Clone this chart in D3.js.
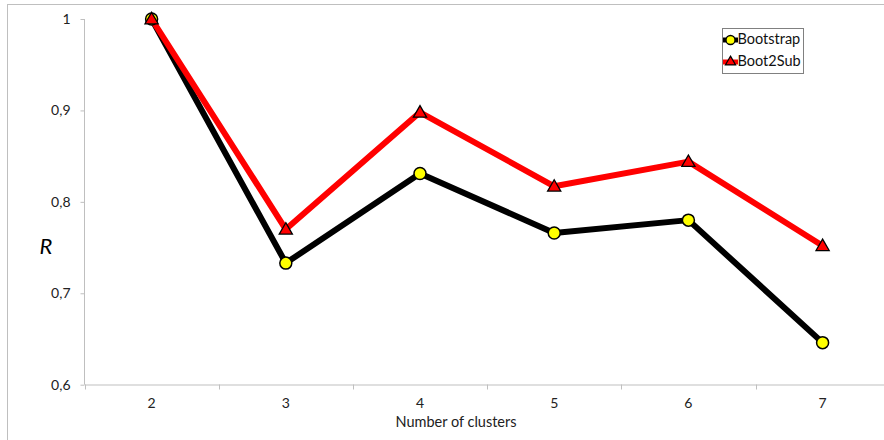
<!DOCTYPE html>
<html><head><meta charset="utf-8">
<script src="https://cdn.jsdelivr.net/npm/d3@7"></script>
<style>body{margin:0;background:#fff}svg{display:block}text{font-family:Lato,"Open Sans",sans-serif}</style>
</head><body>
<svg id="c" width="884" height="440"></svg>
<script>
const categories = ["2","3","4","5","6","7"];
const bootstrap = [1.0, 0.733, 0.831, 0.766, 0.780, 0.646];
const boot2sub = [1.0, 0.770, 0.898, 0.817, 0.844, 0.752];
const yTicks = [0.6, 0.7, 0.8, 0.9, 1.0];
const yTickLabels = ["0,6","0,7","0,8","0,9","1"];

const svg = d3.select("#c");
// outer border
svg.append("rect").attr("x",7.5).attr("y",4.5).attr("width",900).attr("height",500)
  .attr("fill","none").attr("stroke","#bfbfbf").attr("stroke-width",1);

const x = d3.scaleBand().domain(categories).range([84.5, 84.5+6*134.2]);
const y = d3.scaleLinear().domain([0.6, 1.0]).range([384.7, 19]);

// axes
const xAxis = d3.axisBottom(x).tickSize(0).tickPadding(14);
const gx = svg.append("g").attr("transform","translate(0,384.5)").call(xAxis);
gx.select(".domain").attr("stroke","#bfbfbf");
gx.selectAll("text").attr("font-size",14).attr("fill","#222");
// x tick marks at band edges
svg.append("g").selectAll("line").data(categories).join("line")
  .attr("x1",d=>Math.round(x(d))+0.5).attr("x2",d=>Math.round(x(d))+0.5)
  .attr("y1",384.5).attr("y2",389.5).attr("stroke","#bfbfbf");

const yAxis = d3.axisLeft(y).tickValues(yTicks).tickFormat((d,i)=>yTickLabels[i]).tickSize(4).tickPadding(10);
const gy = svg.append("g").attr("transform","translate(84.5,0)").call(yAxis);
gy.select(".domain").attr("stroke","#bfbfbf").attr("d","M0,"+y(1.0)+"V"+y(0.6));
gy.selectAll(".tick line").attr("stroke","#bfbfbf");
gy.selectAll("text").attr("font-size",14).attr("fill","#222");

svg.append("text").attr("x",46).attr("y",248).attr("text-anchor","middle").attr("dominant-baseline","middle")
  .attr("font-size",22).attr("font-style","italic").text("R");
svg.append("text").attr("x",456).attr("y",423).attr("text-anchor","middle").attr("dominant-baseline","middle")
  .attr("font-size",14.5).attr("fill","#222").text("Number of clusters");

const cx = d => x(d) + x.bandwidth()/2;
const line = d3.line().x((d,i)=>cx(categories[i])).y(d=>y(d));

svg.append("path").datum(bootstrap).attr("d",line).attr("fill","none").attr("stroke","#000").attr("stroke-width",6).attr("stroke-linejoin","round");
svg.append("path").datum(boot2sub).attr("d",line).attr("fill","none").attr("stroke","#ff0000").attr("stroke-width",6).attr("stroke-linejoin","round");

svg.append("g").selectAll("circle").data(bootstrap).join("circle")
  .attr("cx",(d,i)=>cx(categories[i])).attr("cy",d=>y(d)).attr("r",6)
  .attr("fill","#ffff00").attr("stroke","#000").attr("stroke-width",1.5);

const tri = d3.symbol().type(d3.symbolTriangle).size(75);
svg.append("g").selectAll("path").data(boot2sub).join("path")
  .attr("d",tri).attr("transform",(d,i)=>`translate(${cx(categories[i])},${y(d)+1})`)
  .attr("fill","#ff0000").attr("stroke","#000").attr("stroke-width",1.3);

// legend
const lg = svg.append("g");
lg.append("rect").attr("x",722.5).attr("y",28.5).attr("width",81).attr("height",45)
  .attr("fill","#fff").attr("stroke","#808080");
const items = [{name:"Bootstrap",color:"#000",sym:"c",yy:40},{name:"Boot2Sub",color:"#ff0000",sym:"t",yy:62}];
items.forEach(it=>{
  lg.append("line").attr("x1",723).attr("x2",738).attr("y1",it.yy).attr("y2",it.yy).attr("stroke",it.color).attr("stroke-width",5);
  if(it.sym==="c"){
    lg.append("circle").attr("cx",730.5).attr("cy",it.yy).attr("r",4.5).attr("fill","#ffff00").attr("stroke","#000").attr("stroke-width",1.3);
  } else {
    lg.append("path").attr("d",d3.symbol().type(d3.symbolTriangle).size(45)).attr("transform",`translate(730.5,${it.yy})`)
      .attr("fill","#ff0000").attr("stroke","#000").attr("stroke-width",1.2);
  }
  lg.append("text").attr("x",737.5).attr("y",it.yy).attr("dominant-baseline","middle").attr("font-size",14.5).attr("fill","#111").text(it.name);
});
</script>
</body></html>
